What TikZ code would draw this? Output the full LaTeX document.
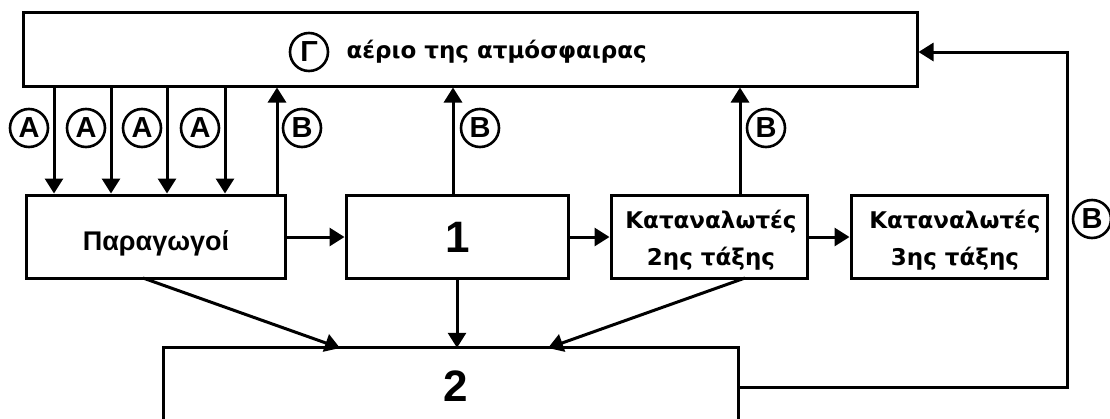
\documentclass[tikz,border=0pt]{standalone}
\usepackage{fontspec}
\setmainfont{Liberation Sans}
\newfontfamily\grk{DejaVu Sans}
\usetikzlibrary{arrows.meta}
\begin{document}
\begin{tikzpicture}[x=1pt,y=-1pt,
  box/.style={draw,line width=3pt,inner sep=0pt},
  arr/.style={line width=3pt,-{Triangle[length=15pt,width=18pt]}},
  ln/.style={line width=3pt},
  circ/.style={circle,draw,line width=2.6pt,minimum size=38pt,inner sep=0pt,font=\fontsize{29}{32}\selectfont\bfseries},
  lbl/.style={font=\fontsize{27}{30}\selectfont\bfseries},
  glbl/.style={font=\grk\fontsize{23}{37}\selectfont\bfseries,align=center},
  big/.style={font=\fontsize{44}{46}\selectfont\bfseries}]
\useasboundingbox (0,0) rectangle (1110,418);
% boxes
\node[box,minimum width=894pt,minimum height=74pt] (G) at (470,49) {};
\node[box,minimum width=259pt,minimum height=83pt] (P) at (155.5,236.5) {};
\node[box,minimum width=222pt,minimum height=83pt] (N1) at (457,236.5) {};
\node[box,minimum width=196pt,minimum height=83pt] (K2) at (709,236.5) {};
\node[box,minimum width=196pt,minimum height=83pt] (K3) at (949,236.5) {};
\node[minimum width=574pt,minimum height=140pt,inner sep=0pt] (N2) at (451,418) {};
\draw[ln] (N2.south west) -- (N2.north west) -- (N2.north east) -- (N2.south east);
% texts
\node[circ] (cG) at (309,52) {Γ};
\node[glbl,anchor=west] (tG) at (343,52) {αέριο της ατμόσφαιρας};
\node[lbl] (tP) at (156,243) {Παραγωγοί};
\node[big] (t1) at (458,237) {1};
\node[glbl] (tK2) at (711,240) {Καταναλωτές\\2ης τάξης};
\node[glbl] (tK3) at (955,240) {Καταναλωτές\\3ης τάξης};
\node[big] (t2) at (456,386) {2};
% A arrows
\foreach \x/\n in {54/1,111/2,167/3,225/4}{
  \coordinate (a\n) at (\x,0);
  \draw[arr] (G.south -| a\n) -- (P.north -| a\n);
  \node[circ] (cA\n) at (\x-25,128) {A};
}
% B arrows
\coordinate (b1) at (277,0);
\coordinate (b2) at (453,0);
\coordinate (b3) at (740,0);
\draw[arr] (P.north -| b1) -- (G.south -| b1);
\draw[arr] (N1.north -| b2) -- (G.south -| b2);
\draw[arr] (K2.north -| b3) -- (G.south -| b3);
\node[circ] (cB1) at (302,128) {B};
\node[circ] (cB2) at (480,128) {B};
\node[circ] (cB3) at (766,128) {B};
% horizontal arrows
\draw[arr] (P.east |- t1) -- (N1.west |- t1);
\draw[arr] (N1.east |- t1) -- (K2.west |- t1);
\draw[arr] (K2.east |- t1) -- (K3.west |- t1);
% to box 2
\coordinate (p1) at (143,278);
\coordinate (p2) at (340,348);
\coordinate (c1) at (457,0);
\coordinate (k1) at (745,278);
\coordinate (k2) at (548,348);
\draw[arr] (p1) -- (p2);
\draw[arr] (N1.south -| c1) -- (N2.north -| c1);
\draw[arr] (k1) -- (k2);
% return loop
\coordinate (r1) at (1067,387);
\coordinate (r2) at (1067,52);
\draw[arr] (N2.east |- r1) -- (r1) -- (r2) -- (G.east |- r2);
\node[circ] (cB4) at (1092,219) {B};
\end{tikzpicture}
\end{document}
